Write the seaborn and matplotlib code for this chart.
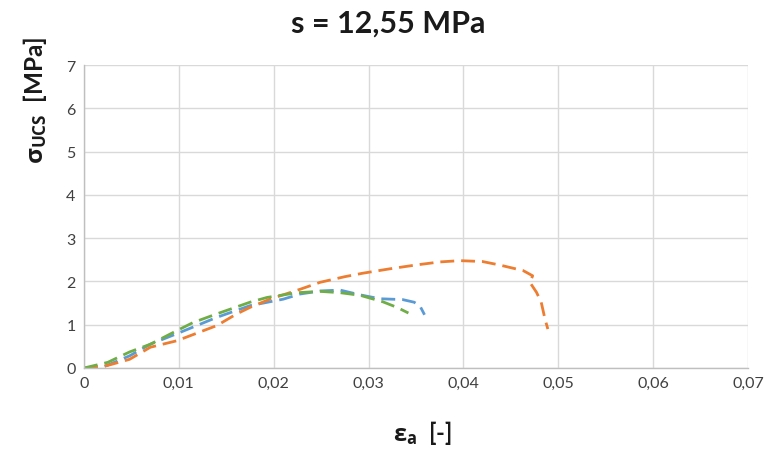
import matplotlib
matplotlib.use("Agg")
import matplotlib.pyplot as plt
import seaborn as sns
import pandas as pd
from matplotlib.ticker import FuncFormatter

# Data
blue_x = [0.0, 0.002, 0.0048, 0.007, 0.0101, 0.014, 0.0175, 0.021, 0.0228, 0.0249, 0.027, 0.0291, 0.0312, 0.0336, 0.0348, 0.0354, 0.0359]
blue_y = [0.0, 0.02, 0.28, 0.55, 0.82, 1.17, 1.44, 1.59, 1.71, 1.78, 1.80, 1.69, 1.60, 1.58, 1.52, 1.44, 1.23]

orange_x = [0.0, 0.0025, 0.0048, 0.007, 0.0098, 0.014, 0.0161, 0.0175, 0.0196, 0.0228, 0.0249, 0.0275, 0.0294, 0.0322, 0.035, 0.0375, 0.0396, 0.042, 0.0438, 0.0463, 0.0473, 0.047, 0.0477, 0.0482, 0.0486, 0.0489]
orange_y = [0.0, 0.06, 0.20, 0.48, 0.63, 0.98, 1.25, 1.40, 1.59, 1.82, 1.98, 2.11, 2.19, 2.29, 2.38, 2.45, 2.48, 2.46, 2.38, 2.25, 2.13, 1.98, 1.75, 1.52, 1.13, 0.90]

green_x = [0.0, 0.0025, 0.0048, 0.007, 0.0094, 0.0115, 0.014, 0.0175, 0.0193, 0.0225, 0.0249, 0.027, 0.0291, 0.0315, 0.033, 0.0342]
green_y = [0.0, 0.13, 0.37, 0.55, 0.82, 1.05, 1.25, 1.52, 1.63, 1.74, 1.77, 1.74, 1.68, 1.53, 1.40, 1.27]

x_ticks = [0, 0.01, 0.02, 0.03, 0.04, 0.05, 0.06, 0.07]
y_ticks = [0, 1, 2, 3, 4, 5, 6, 7]

sns.set_theme(style="white")
plt.rcParams['font.family'] = ['Lato', 'DejaVu Sans']
plt.rcParams['mathtext.fontset'] = 'custom'
plt.rcParams['mathtext.rm'] = 'Open Sans:bold'
plt.rcParams['mathtext.it'] = 'Open Sans:bold'
plt.rcParams['mathtext.bf'] = 'Open Sans:bold'

fig = plt.figure(figsize=(7.69, 4.56), dpi=100)
ax = fig.add_axes([84/769, 1-369/456, (748-84)/769, (369-66)/456])

series = [("blue", blue_x, blue_y, "#5B9BD5"),
          ("orange", orange_x, orange_y, "#ED7D31"),
          ("green", green_x, green_y, "#70AD47")]
for name, xs, ys, col in series:
    df = pd.DataFrame({"x": xs, "y": ys})
    sns.lineplot(data=df, x="x", y="y", sort=False, estimator=None, ax=ax,
                 color=col, linewidth=2.0, dashes=False)
    ax.lines[-1].set_dashes([5, 2.5])

ax.set_xlim(0, 0.07)
ax.set_ylim(0, 7)
ax.set_xticks(x_ticks)
ax.set_yticks(y_ticks)
ax.xaxis.set_major_formatter(FuncFormatter(lambda v, p: "0" if v == 0 else f"{v:.2f}".replace(".", ",")))
ax.yaxis.set_major_formatter(FuncFormatter(lambda v, p: f"{int(round(v))}"))
ax.grid(True, color="#D9D9D9", linewidth=1)
ax.set_axisbelow(True)
for s in ["top", "right"]:
    ax.spines[s].set_visible(False)
for s in ["left", "bottom"]:
    ax.spines[s].set_color("#BFBFBF")
    ax.spines[s].set_linewidth(1)
ax.tick_params(axis="both", labelsize=11.5, colors="#404040", length=0, pad=6)

ax.set_xlabel(r"$\mathbf{\varepsilon}_\mathbf{a}$  [-]", fontsize=17, fontweight="bold", color="#1a1a1a")
ax.set_ylabel(r"$\mathbf{\sigma}_\mathbf{UCS}$  [MPa]", fontsize=17.5, fontweight="bold", color="#1a1a1a")
ax.xaxis.set_label_coords((423-84)/664, (369-433)/303)
ax.yaxis.set_label_coords((35-84)/664, (369-101)/303)
ax.xaxis.label.set_va("center")
ax.yaxis.label.set_va("center")
fig.text(388/769, 1-24/456, "s = 12,55 MPa", fontsize=22, fontweight="bold",
         ha="center", va="center", color="#1a1a1a")

fig.savefig("out.png", dpi=100, facecolor="white")
